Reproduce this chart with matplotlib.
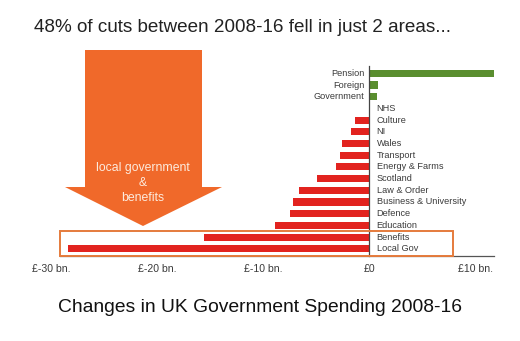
import matplotlib
matplotlib.use("Agg")
import matplotlib.pyplot as plt
from matplotlib.patches import Polygon, Rectangle

plt.rcParams['font.family'] = ['Liberation Sans', 'DejaVu Sans']

categories = ["Pension", "Foreign", "Government", "NHS", "Culture", "NI", "Wales",
              "Transport", "Energy & Farms", "Scotland", "Law & Order",
              "Business & University", "Defence", "Education", "Benefits", "Local Gov"]
values = [11.8, 0.8, 0.73, 0.0, -1.35, -1.7, -2.6, -2.8, -3.1, -4.9, -6.6,
          -7.2, -7.5, -8.9, -15.6, -28.4]
tick_values = [-30, -20, -10, 0, 10]
tick_labels = ["£-30 bn.", "£-20 bn.", "£-10 bn.", "£0", "£10 bn."]

W, H = 520, 341
fig = plt.figure(figsize=(W / 100, H / 100), dpi=100)
ax = fig.add_axes([0, 0, 1, 1])
ax.set_axis_off()

# pixel mapping: x_px = 369.3 + 10.6*v ; y_px = 73.3 + 11.7*i
x0px, sx = 369.3, 10.6
y0px, sy = 73.3, 11.7
ax.set_xlim((0 - x0px) / sx, (W - x0px) / sx)
ax.set_ylim((H - y0px) / sy, (0 - y0px) / sy)

red = "#E2231F"
green = "#5A8E2F"
orange = "#F0692A"
txt = "#3a3a3a"

ypos = list(range(len(categories)))
colors = [green if v > 0 else red for v in values]
ax.barh(ypos, values, height=0.6, color=colors, zorder=3)

# zero line and baseline
ax.plot([0, 0], [-0.6, 15.65], color="#444444", lw=0.9, zorder=4)
ax.plot([-29.2, 11.75], [15.65, 15.65], color="#555555", lw=0.9, zorder=2)

for i, (c, v) in enumerate(zip(categories, values)):
    if v > 0:
        ax.text(-0.45, i, c, ha="right", va="center", fontsize=6.6, color=txt)
    else:
        ax.text(0.7, i, c, ha="left", va="center", fontsize=6.6, color=txt)

for tv, tl in zip(tick_values, tick_labels):
    ax.text(tv, (268.5 - y0px) / sy, tl, ha="center", va="center", fontsize=7.6, color=txt)

# highlight box
ax.add_patch(Rectangle((-29.18, 13.48), 29.18 + 7.9, 15.6 - 13.48, fill=False,
                       edgecolor="#E57B3C", lw=1.4, zorder=5))

# arrow (figure pixel coords)
pts = [(85, 50), (202, 50), (202, 187), (222, 187), (143, 226), (65, 187), (85, 187)]
poly = Polygon([(x / W, 1 - y / H) for x, y in pts], closed=True,
               transform=fig.transFigure, facecolor=orange, edgecolor="none")
fig.patches.append(poly)
for ytxt, s in [(168, "local government"), (183, "&"), (198, "benefits")]:
    fig.text(143 / W, 1 - ytxt / H, s, ha="center", va="center", fontsize=8.8,
             color="#FDEBDD")

fig.text(242.5 / W, 1 - 28 / H, "48% of cuts between 2008-16 fell in just 2 areas...",
         ha="center", va="center", fontsize=13.6, color="#222222")
fig.text(260 / W, 1 - 308 / H, "Changes in UK Government Spending 2008-16",
         ha="center", va="center", fontsize=13.9, color="#111111")

fig.savefig("out.png", dpi=100)
